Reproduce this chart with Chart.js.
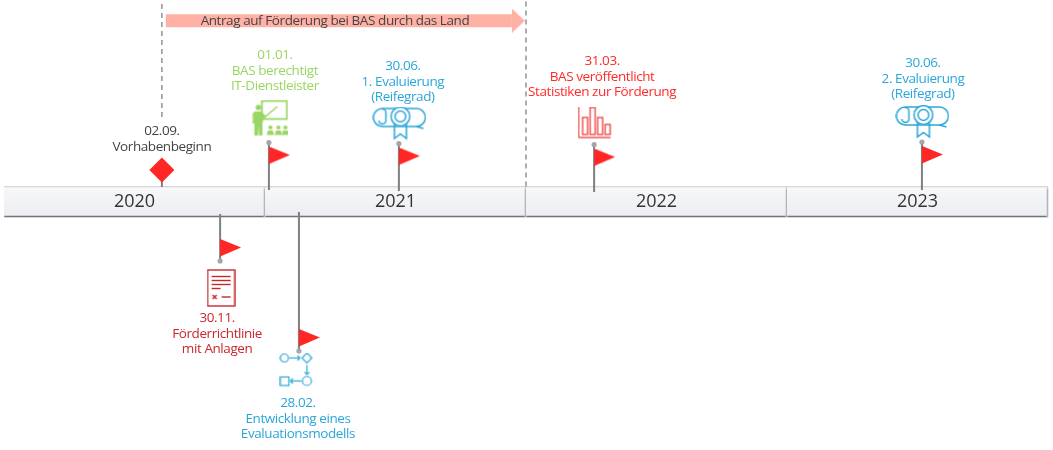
<!DOCTYPE html>
<html lang="de">
<head>
  <meta charset="UTF-8">
  <title>Zeitstrahl BAS</title>
  <script src="https://cdn.jsdelivr.net/npm/chart.js"></script>
  <style>
    html, body { margin: 0; padding: 0; background: #fff; }
    canvas { display: block; }
  </style>
</head>
<body>
  <canvas id="timeline" width="1053" height="450"></canvas>

  <script>
    const FONT = '"Open Sans", "Noto Sans", sans-serif';

    // data: x is a position on the year axis, y is height above the band
    const years = [2020, 2021, 2022, 2023];
    const eventPos = [2020.828, 2021.015, 2021.130, 2021.513, 2022.261, 2023.517];
    const stemBase = [-12.5, 11.5, -10.5, 10.5, 9.5, 11.5];
    const stemTip = [-59.5, 59, -149.5, 58, 57, 59.5];
    const eventIcons = ['doc', 'teacher', 'process', 'scroll', 'bars', 'scroll'];
    const eventText = [
      ['30.11.', 'Förderrichtlinie', 'mit Anlagen'],
      ['01.01.', 'BAS berechtigt', 'IT-Dienstleister'],
      ['28.02.', 'Entwicklung eines', 'Evaluationsmodells'],
      ['30.06.', '1. Evaluierung', '(Reifegrad)'],
      ['31.03.', 'BAS veröffentlicht', 'Statistiken zur Förderung'],
      ['30.06.', '2. Evaluierung', '(Reifegrad)']
    ];
    const startPos = 2020.605;
    const startHeight = 31.5;
    const startBase = 14.5;
    const startText = ['02.09.', 'Vorhabenbeginn'];
    const periodPos = [2020.62, 2021.946];
    const periodHeight = 180.75;
    const periodText = 'Antrag auf Förderung bei BAS durch das Land';
    const periodTextPos = 2021.268;
    const dashPos = [2020.605, 2022];
    const dashFrom = [84.5, 15];
    const axisMin = -248.5;
    const axisMax = 201.5;

    // styling per event
    const textColors = ['#c8282d', '#9ad663', '#2ba6d9', '#2ba6d9', '#ff2a2a', '#2ba6d9'];
    const iconShift = [[1, 27], [1.5, -24.5], [-2.5, 19], [0.5, -20], [0.5, -21.5], [0.5, -20]];
    const textShift = [[-3, 57], [6, -87.5], [-1, 52], [4, -77.5], [8, -83.5], [1, -79]];

    function makeIcon(w, h, color, paint) {
      const c = document.createElement('canvas');
      c.width = w;
      c.height = h;
      const g = c.getContext('2d');
      g.strokeStyle = color;
      g.fillStyle = color;
      g.lineWidth = 1.4;
      paint(g);
      return c;
    }

    function line(g, x1, y1, x2, y2) {
      g.beginPath();
      g.moveTo(x1, y1);
      g.lineTo(x2, y2);
      g.stroke();
    }

    function smallArrow(g, x1, y1, x2, y2) {
      line(g, x1, y1, x2, y2);
      const a = Math.atan2(y2 - y1, x2 - x1);
      line(g, x2, y2, x2 - 3.5 * Math.cos(a - 0.8), y2 - 3.5 * Math.sin(a - 0.8));
      line(g, x2, y2, x2 - 3.5 * Math.cos(a + 0.8), y2 - 3.5 * Math.sin(a + 0.8));
    }

    const icons = {
      teacher: makeIcon(36, 37, '#9ad663', g => {
        g.lineWidth = 1.8;
        g.strokeRect(9.5, 1.5, 25, 18);
        g.beginPath();
        g.arc(6, 8, 2.8, 0, Math.PI * 2);
        g.fill();
        g.beginPath();
        g.moveTo(2, 12);
        g.lineTo(9, 12);
        g.lineTo(14, 17);
        g.lineTo(11, 20);
        g.lineTo(10, 24);
        g.lineTo(10, 36);
        g.lineTo(6.6, 36);
        g.lineTo(6.2, 26);
        g.lineTo(5.6, 36);
        g.lineTo(2, 36);
        g.lineTo(2, 24);
        g.lineTo(0.5, 24);
        g.lineTo(0.5, 14);
        g.closePath();
        g.fill();
        g.lineWidth = 1.6;
        line(g, 13, 17, 25, 7);
        [18, 26, 33].forEach(x => {
          g.beginPath();
          g.arc(x, 28, 2.1, 0, Math.PI * 2);
          g.fill();
          g.beginPath();
          g.moveTo(x - 3.8, 35.5);
          g.lineTo(x - 2.4, 31);
          g.lineTo(x + 2.4, 31);
          g.lineTo(x + 3.8, 35.5);
          g.closePath();
          g.fill();
        });
      }),
      scroll: makeIcon(54, 34, '#2ba6d9', g => {
        g.lineWidth = 1.5;
        g.beginPath();
        g.moveTo(10, 2);
        g.lineTo(44, 2);
        g.arc(44, 11, 9, -Math.PI / 2, Math.PI / 2);
        g.lineTo(20, 20);
        g.moveTo(22, 20);
        g.lineTo(10, 20);
        g.arc(10, 11, 9, Math.PI / 2, Math.PI * 1.5);
        g.stroke();
        g.beginPath();
        g.moveTo(10, 2);
        g.arc(10, 6, 3.5, -Math.PI / 2, 0);
        g.lineTo(13.5, 14);
        g.arc(10, 14, 3.5, 0, Math.PI);
        g.stroke();
        line(g, 44, 20, 51, 22);
        g.beginPath();
        g.moveTo(22, 15);
        g.lineTo(22, 32);
        g.lineTo(28, 27.5);
        g.lineTo(34, 32);
        g.lineTo(34, 15);
        g.stroke();
        g.beginPath();
        g.arc(28, 10, 9.4, 0, Math.PI * 2);
        g.fillStyle = '#fff';
        g.fill();
        g.stroke();
        g.beginPath();
        g.arc(28, 10, 5.4, 0, Math.PI * 2);
        g.stroke();
      }),
      bars: makeIcon(34, 33, '#f04a4a', g => {
        line(g, 1, 0, 1, 31);
        line(g, 1, 31, 33, 31);
        g.strokeRect(5, 11, 5, 17);
        g.strokeRect(12.5, 1, 5, 27);
        g.strokeRect(20, 11, 5, 17);
        g.strokeRect(27.5, 18, 5, 10);
      }),
      doc: makeIcon(29, 38, '#c8282d', g => {
        g.strokeRect(1, 1, 27, 36);
        line(g, 5, 7.5, 24, 7.5);
        line(g, 5, 11.5, 24, 11.5);
        line(g, 5, 15.5, 24, 15.5);
        line(g, 5, 19.5, 14, 19.5);
        line(g, 6, 26, 10, 30);
        line(g, 10, 26, 6, 30);
        line(g, 15, 28, 24, 28);
      }),
      process: makeIcon(34, 35, '#2ba6d9', g => {
        g.lineWidth = 1.2;
        g.beginPath();
        g.arc(5, 5.5, 4, 0, Math.PI * 2);
        g.stroke();
        smallArrow(g, 10, 5.5, 20.5, 5.5);
        g.beginPath();
        g.moveTo(27.5, 0.5);
        g.lineTo(32.5, 5.5);
        g.lineTo(27.5, 10.5);
        g.lineTo(22.5, 5.5);
        g.closePath();
        g.stroke();
        smallArrow(g, 27.5, 12.5, 27.5, 22);
        g.beginPath();
        g.arc(27.5, 28.5, 4.5, 0, Math.PI * 2);
        g.stroke();
        smallArrow(g, 22, 28.5, 11, 28.5);
        g.strokeRect(1, 24.5, 8.5, 8.5);
      })
    };

    // flag and arrow head sit in the right half, so the point marks the left edge
    const flag = makeIcon(42, 18, '#ff2626', g => {
      g.beginPath();
      g.moveTo(21, 0);
      g.lineTo(42, 8.5);
      g.lineTo(21, 17.5);
      g.closePath();
      g.fill();
    });
    const arrowHead = makeIcon(26, 24, '#ffb1a6', g => {
      g.beginPath();
      g.moveTo(13, 0);
      g.lineTo(26, 12);
      g.lineTo(13, 24);
      g.closePath();
      g.fill();
    });

    const sideOf = i => (stemTip[i] > 0 ? 1 : -1);

    const datasets = [
      {
        type: 'bar',
        indexAxis: 'y',
        data: years.map(y => ({ x: [y, y + 1], y: 0 })),
        barThickness: 31,
        borderWidth: 1.5,
        borderColor: '#d6d8da',
        backgroundColor: ctx => {
          const g = ctx.chart.ctx.createLinearGradient(0, 186, 0, 217);
          g.addColorStop(0, '#f8f8fa');
          g.addColorStop(1, '#ebedf1');
          return g;
        },
        order: 10,
        bandShadow: true
      },
      // dashed period lines
      ...dashPos.map((x, i) => ({
        type: 'line',
        data: [{ x, y: dashFrom[i] }, { x, y: axisMax }],
        borderColor: '#777',
        borderWidth: 1.2,
        borderDash: [5, 4],
        pointRadius: 0,
        order: 5
      })),
      // period arrow
      {
        type: 'line',
        data: periodPos.map(x => ({ x, y: periodHeight })),
        borderColor: '#ffb1a6',
        borderWidth: 13,
        borderCapStyle: 'butt',
        pointRadius: 0,
        order: 4
      },
      {
        type: 'scatter',
        data: [{ x: periodPos[1], y: periodHeight }],
        pointStyle: arrowHead,
        pointRadius: 10,
        order: 4
      },
      // start marker
      {
        type: 'line',
        data: [{ x: startPos, y: startBase }, { x: startPos, y: startHeight }],
        borderColor: '#808080',
        borderWidth: 2,
        pointStyle: 'rectRot',
        pointRadius: [0, 12.5],
        pointBackgroundColor: '#ff2626',
        pointBorderWidth: 0,
        order: 3
      },
      // stems with a dot on the tip
      ...eventPos.map((x, i) => ({
        type: 'line',
        data: [{ x, y: stemBase[i] }, { x, y: stemTip[i] }],
        borderColor: '#808080',
        borderWidth: 2,
        pointRadius: [0, 2.6],
        pointBackgroundColor: '#a6a6a6',
        pointBorderWidth: 0,
        order: 3
      })),
      {
        type: 'scatter',
        data: eventPos.map((x, i) => ({ x, y: stemTip[i] - sideOf(i) * 13 })),
        pointStyle: flag,
        pointRadius: 10,
        order: 2
      },
      {
        type: 'scatter',
        data: eventPos.map((x, i) => ({ x, y: stemTip[i] })),
        pointStyle: eventIcons.map(k => icons[k]),
        pointRadius: 10,
        iconShift: true,
        order: 1
      }
    ];

    const bandShadow = {
      id: 'bandShadow',
      beforeDatasetDraw(chart, args) {
        if (!chart.data.datasets[args.index].bandShadow) return;
        const ctx = chart.ctx;
        ctx.save();
        ctx.shadowColor = 'rgba(0,0,0,0.5)';
        ctx.shadowBlur = 2;
        ctx.shadowOffsetY = 2;
      },
      afterDatasetDraw(chart, args) {
        if (chart.data.datasets[args.index].bandShadow) chart.ctx.restore();
      }
    };

    const iconOffsets = {
      id: 'iconOffsets',
      afterDatasetsUpdate(chart) {
        chart.data.datasets.forEach((ds, d) => {
          if (!ds.iconShift) return;
          chart.getDatasetMeta(d).data.forEach((pt, i) => {
            pt.x += iconShift[i][0];
            pt.y += iconShift[i][1];
          });
        });
      }
    };

    const textLayer = {
      id: 'textLayer',
      afterDatasetsDraw(chart) {
        const { ctx, scales: { x, y } } = chart;
        const lineGap = 15.8;
        ctx.save();
        ctx.textAlign = 'center';
        ctx.textBaseline = 'middle';

        ctx.fillStyle = '#333';
        ctx.font = '18px ' + FONT;
        years.forEach(v => ctx.fillText(String(v), x.getPixelForValue(v + 0.5), y.getPixelForValue(0)));

        ctx.font = '13.5px ' + FONT;
        ctx.letterSpacing = '-0.42px';
        ctx.fillStyle = '#444';
        ctx.fillText(periodText, x.getPixelForValue(periodTextPos), y.getPixelForValue(periodHeight));
        startText.forEach((t, n) => {
          ctx.fillText(t, x.getPixelForValue(startPos), y.getPixelForValue(startHeight) - 39 + n * lineGap);
        });

        eventText.forEach((lines, i) => {
          ctx.fillStyle = textColors[i];
          lines.forEach((t, n) => {
            ctx.fillText(t, x.getPixelForValue(eventPos[i]) + textShift[i][0], y.getPixelForValue(stemTip[i]) + textShift[i][1] + n * lineGap);
          });
        });
        ctx.restore();
      }
    };

    new Chart(document.getElementById('timeline').getContext('2d'), {
      data: { datasets },
      plugins: [bandShadow, iconOffsets, textLayer],
      options: {
        responsive: false,
        animation: false,
        layout: { autoPadding: false, padding: { left: 4, right: 5, top: 0, bottom: 0 } },
        datasets: { line: { clip: false }, scatter: { clip: false }, bar: { clip: false } },
        scales: {
          x: { type: 'linear', axis: 'x', display: false, offset: false, min: years[0], max: years[years.length - 1] + 1 },
          y: { type: 'linear', axis: 'y', display: false, offset: false, min: axisMin, max: axisMax }
        },
        plugins: { legend: { display: false }, tooltip: { enabled: false } }
      }
    });
  </script>
</body>
</html>
